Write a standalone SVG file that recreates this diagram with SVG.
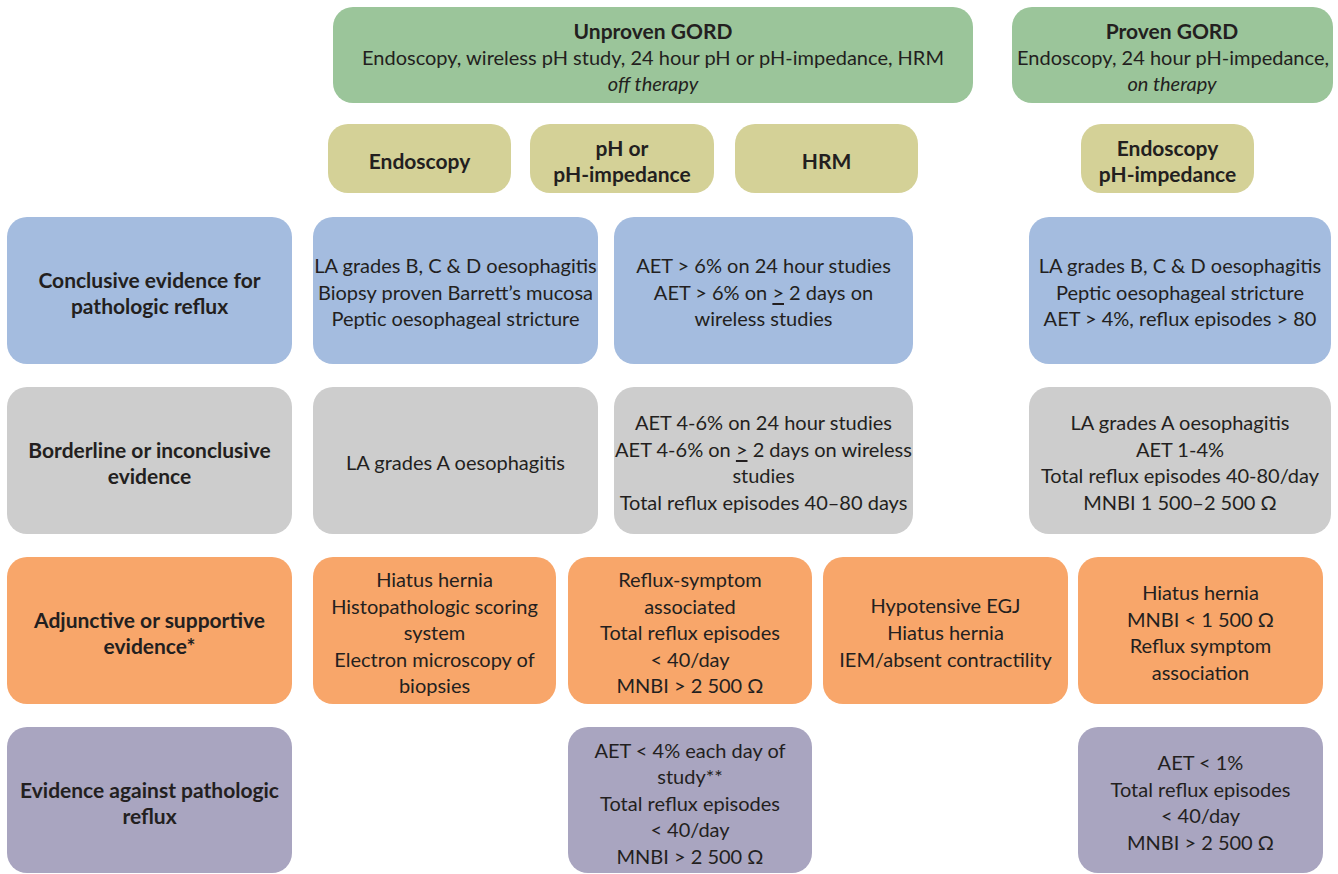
<svg xmlns="http://www.w3.org/2000/svg" width="1338" height="874" viewBox="0 0 1338 874">
<style>
.t{font-family:Lato,"Open Sans","Liberation Sans",sans-serif;font-size:20px;fill:#231f20;text-anchor:middle;dominant-baseline:central}
.b{font-weight:bold;font-size:21px}
.i{font-style:italic}
.g{fill:#9bc59a}.o{fill:#d4d197}.bl{fill:#a4bcdf}.gr{fill:#cdcdcd}.or{fill:#f8a66a}.p{fill:#a9a5c0}
.u{text-decoration:underline}
</style>
<rect width="1338" height="874" fill="#ffffff"/>
<g id="connectors"/>
<g id="unproven"><rect class="g" x="333" y="7" width="640" height="96" rx="20"/>
<text class="t b" x="653" y="30">Unproven GORD</text>
<text class="t" x="653" y="57">Endoscopy, wireless pH study, 24 hour pH or pH-impedance, HRM</text>
<text class="t i" x="653" y="83">off therapy</text></g>
<g id="proven"><rect class="g" x="1012" y="7" width="321" height="96" rx="20"/>
<text class="t b" x="1172" y="30">Proven GORD</text>
<text class="t" x="1173" y="57" textLength="312" lengthAdjust="spacingAndGlyphs">Endoscopy, 24 hour pH-impedance,</text>
<text class="t i" x="1172" y="83">on therapy</text></g>
<g id="h-endo"><rect class="o" x="328" y="124" width="183" height="69" rx="20"/>
<text class="t b" x="419.5" y="160">Endoscopy</text></g>
<g id="h-ph"><rect class="o" x="530" y="124" width="184" height="69" rx="20"/>
<text class="t b" x="622" y="147">pH or</text><text class="t b" x="622" y="173">pH-impedance</text></g>
<g id="h-hrm"><rect class="o" x="735" y="124" width="183" height="69" rx="20"/>
<text class="t b" x="826.5" y="160">HRM</text></g>
<g id="h-proven"><rect class="o" x="1081" y="124" width="173" height="69" rx="20"/>
<text class="t b" x="1167.5" y="147">Endoscopy</text><text class="t b" x="1167.5" y="173">pH-impedance</text></g>

<g id="conclusive-label"><rect class="bl" x="7" y="217" width="285" height="147" rx="20"/>
<text class="t b" x="149.5" y="279">Conclusive evidence for</text><text class="t b" x="149.5" y="305">pathologic reflux</text></g>
<g id="conclusive-endo"><rect class="bl" x="313" y="217" width="285" height="147" rx="20"/>
<text class="t" x="455.5" y="265">LA grades B, C &amp; D oesophagitis</text>
<text class="t" x="455.5" y="292">Biopsy proven Barrett’s mucosa</text>
<text class="t" x="455.5" y="318">Peptic oesophageal stricture</text></g>
<g id="conclusive-ph"><rect class="bl" x="614" y="217" width="299" height="147" rx="20"/>
<text class="t" x="763.5" y="265">AET &gt; 6% on 24 hour studies</text>
<text class="t" x="763.5" y="292">AET &gt; 6% on <tspan class="u">&gt;</tspan> 2 days on</text>
<text class="t" x="763.5" y="318">wireless studies</text></g>
<g id="conclusive-proven"><rect class="bl" x="1029" y="217" width="302" height="147" rx="20"/>
<text class="t" x="1180" y="265">LA grades B, C &amp; D oesophagitis</text>
<text class="t" x="1180" y="292">Peptic oesophageal stricture</text>
<text class="t" x="1180" y="318">AET &gt; 4%, reflux episodes &gt; 80</text></g>

<g id="borderline-label"><rect class="gr" x="7" y="387" width="285" height="147" rx="20"/>
<text class="t b" x="149.5" y="449">Borderline or inconclusive</text><text class="t b" x="149.5" y="475">evidence</text></g>
<g id="borderline-endo"><rect class="gr" x="313" y="387" width="285" height="147" rx="20"/>
<text class="t" x="455.5" y="462">LA grades A oesophagitis</text></g>
<g id="borderline-ph"><rect class="gr" x="614" y="387" width="299" height="147" rx="20"/>
<text class="t" x="763.5" y="422">AET 4-6% on 24 hour studies</text>
<text class="t" x="763.5" y="449">AET 4-6% on <tspan class="u">&gt;</tspan> 2 days on wireless</text>
<text class="t" x="763.5" y="475">studies</text>
<text class="t" x="763.5" y="502">Total reflux episodes 40–80 days</text></g>
<g id="borderline-proven"><rect class="gr" x="1029" y="387" width="302" height="147" rx="20"/>
<text class="t" x="1180" y="422">LA grades A oesophagitis</text>
<text class="t" x="1180" y="449">AET 1-4%</text>
<text class="t" x="1180" y="475">Total reflux episodes 40-80/day</text>
<text class="t" x="1180" y="502">MNBI 1 500–2 500 Ω</text></g>

<g id="adjunctive-label"><rect class="or" x="7" y="557" width="285" height="147" rx="20"/>
<text class="t b" x="149.5" y="619">Adjunctive or supportive</text><text class="t b" x="149.5" y="645">evidence*</text></g>
<g id="adjunctive-endo"><rect class="or" x="313" y="557" width="243" height="147" rx="20"/>
<text class="t" x="434.5" y="579">Hiatus hernia</text>
<text class="t" x="434.5" y="606">Histopathologic scoring</text>
<text class="t" x="434.5" y="632">system</text>
<text class="t" x="434.5" y="659">Electron microscopy of</text>
<text class="t" x="434.5" y="685">biopsies</text></g>
<g id="adjunctive-ph"><rect class="or" x="568" y="557" width="244" height="147" rx="20"/>
<text class="t" x="690" y="579">Reflux-symptom</text>
<text class="t" x="690" y="606">associated</text>
<text class="t" x="690" y="632">Total reflux episodes</text>
<text class="t" x="690" y="659">&lt; 40/day</text>
<text class="t" x="690" y="685">MNBI &gt; 2 500 Ω</text></g>
<g id="adjunctive-hrm"><rect class="or" x="823" y="557" width="245" height="147" rx="20"/>
<text class="t" x="945.5" y="605">Hypotensive EGJ</text>
<text class="t" x="945.5" y="632">Hiatus hernia</text>
<text class="t" x="945.5" y="659">IEM/absent contractility</text></g>
<g id="adjunctive-proven"><rect class="or" x="1078" y="557" width="245" height="147" rx="20"/>
<text class="t" x="1200.5" y="592">Hiatus hernia</text>
<text class="t" x="1200.5" y="619">MNBI &lt; 1 500 Ω</text>
<text class="t" x="1200.5" y="645">Reflux symptom</text>
<text class="t" x="1200.5" y="672">association</text></g>

<g id="against-label"><rect class="p" x="7" y="727" width="285" height="146" rx="20"/>
<text class="t b" x="149.5" y="789">Evidence against pathologic</text><text class="t b" x="149.5" y="815">reflux</text></g>
<g id="against-ph"><rect class="p" x="568" y="727" width="244" height="146" rx="20"/>
<text class="t" x="690" y="750">AET &lt; 4% each day of</text>
<text class="t" x="690" y="776">study**</text>
<text class="t" x="690" y="803">Total reflux episodes</text>
<text class="t" x="690" y="829">&lt; 40/day</text>
<text class="t" x="690" y="856">MNBI &gt; 2 500 Ω</text></g>
<g id="against-proven"><rect class="p" x="1078" y="727" width="245" height="146" rx="20"/>
<text class="t" x="1200.5" y="762">AET &lt; 1%</text>
<text class="t" x="1200.5" y="789">Total reflux episodes</text>
<text class="t" x="1200.5" y="815">&lt; 40/day</text>
<text class="t" x="1200.5" y="842">MNBI &gt; 2 500 Ω</text></g>
</svg>
